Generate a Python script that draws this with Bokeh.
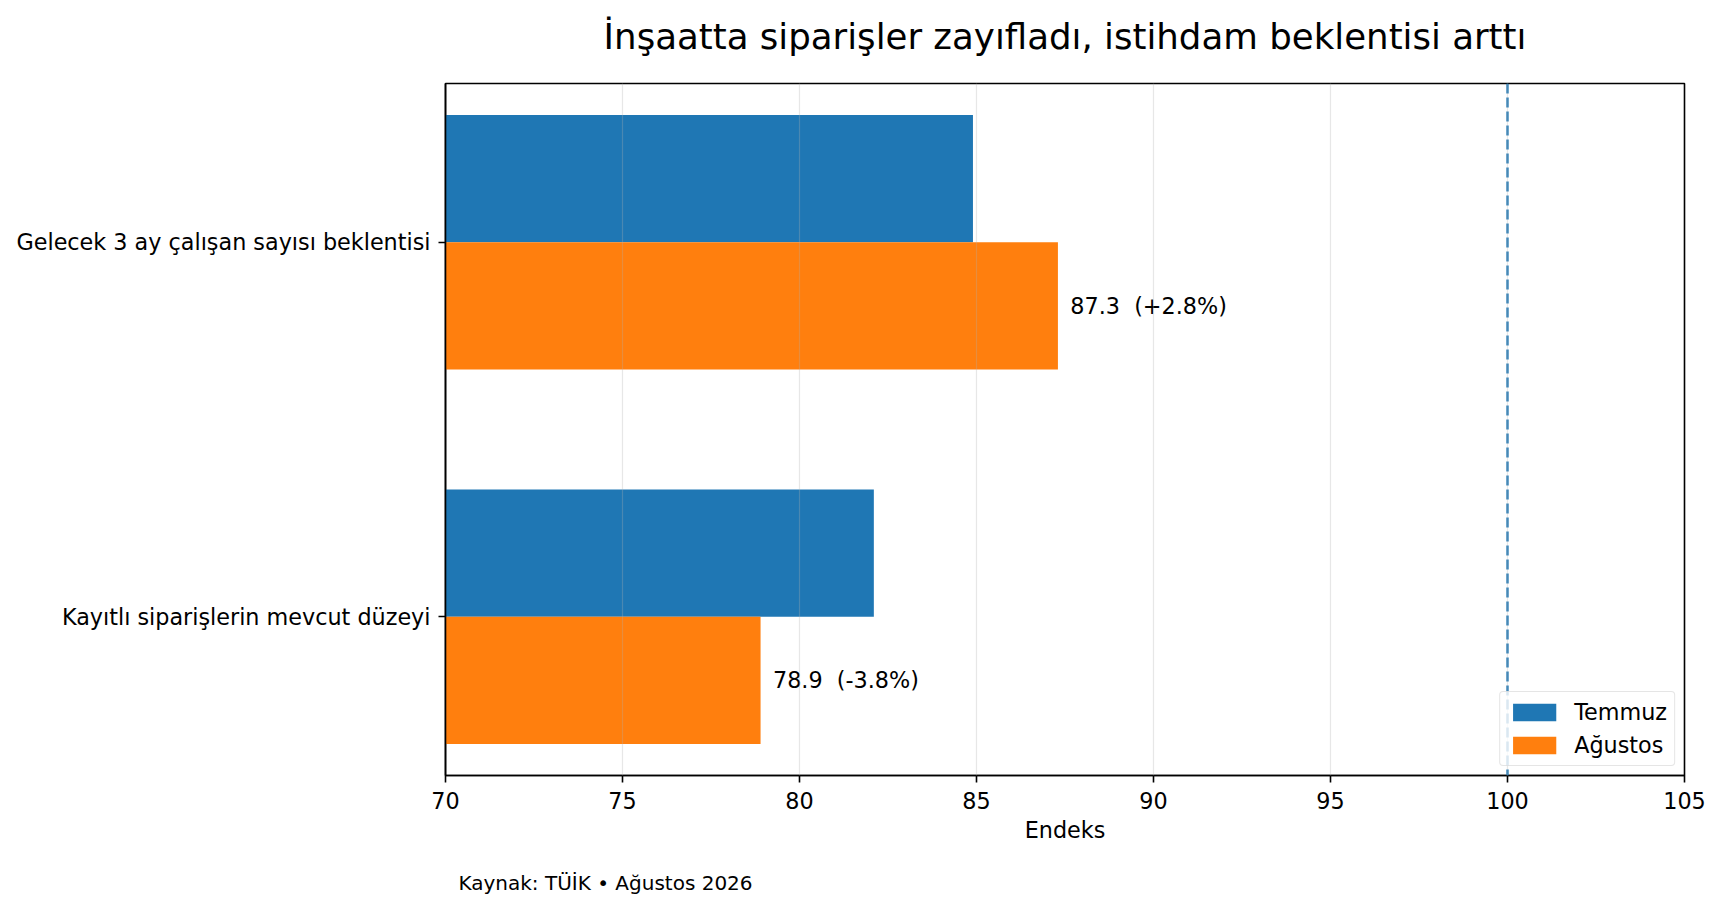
from bokeh.plotting import figure
from bokeh.models import (ColumnDataSource, FactorRange, Range1d, FixedTicker,
                          Span, Legend, LegendItem, Title)
from bokeh.transform import dodge
from bokeh.core.properties import value
from bokeh.embed import file_html
from bokeh.resources import INLINE

# data
categories = ["Kayıtlı siparişlerin mevcut düzeyi",
              "Gelecek 3 ay çalışan sayısı beklentisi"]
temmuz = [82.1, 84.9]
agustos = [78.9, 87.3]
degisim = [-3.8, 2.8]          # % change Temmuz -> Ağustos, as printed
x_ticks = [70, 75, 80, 85, 90, 95, 100, 105]
reference_level = 100

FONT = "DejaVu Sans"
BLUE = "#1f77b4"
ORANGE = "#ff7f0e"

# non-breaking spaces so the double gap survives in svg
labels = [f"{a:.1f}\u00a0\u00a0({d:+.1f}%)" for a, d in zip(agustos, degisim)]
label_x = [a + 0.35 for a in agustos]

source = ColumnDataSource(data=dict(cat=categories, temmuz=temmuz, agustos=agustos,
                                    label=labels, label_x=label_x))

p = figure(width=1706, height=900, output_backend="svg", toolbar_location=None,
           y_range=FactorRange(*categories, range_padding=-0.076),
           x_range=Range1d(70, 105),
           min_border_left=445, min_border_right=22,
           min_border_top=83, min_border_bottom=124)


def spacer(gap):
    # blank title used only to push the next panel outward
    return Title(text="\u00a0", text_font_size="1px", standoff=gap)


# title (a blank spacer sits between it and the frame)
p.add_layout(spacer(7), "above")
p.title.text = "İnşaatta siparişler zayıfladı, istihdam beklentisi arttı"
p.title.align = "center"
p.title.vertical_align = "top"
p.title.text_font = FONT
p.title.text_font_size = "35.6px"
p.title.text_font_style = "normal"
p.title.text_color = "#000000"
p.title.standoff = 30

# bars
bar_h = 0.34
r_t = p.hbar(y=dodge("cat", bar_h / 2, range=p.y_range), left=0, right="temmuz",
             height=bar_h, source=source, fill_color=BLUE, line_color=None)
r_a = p.hbar(y=dodge("cat", -bar_h / 2, range=p.y_range), left=0, right="agustos",
             height=bar_h, source=source, fill_color=ORANGE, line_color=None)

# value labels next to the Ağustos bars
p.text(x="label_x", y=dodge("cat", -bar_h / 2, range=p.y_range), text="label",
       source=source, text_font=value(FONT), text_font_size="22.3px",
       text_baseline="middle", text_align="left", text_color="#000000")

# reference line at 100
p.add_layout(Span(location=reference_level, dimension="height", line_color=BLUE,
                  line_width=2.3, line_dash="10 4"))

# axes
p.xaxis.ticker = FixedTicker(ticks=x_ticks)
p.xaxis.axis_label = "Endeks"
for ax in (p.xaxis, p.yaxis):
    ax.axis_line_color = "black"
    ax.axis_line_width = 1.6
    ax.major_tick_line_color = "black"
    ax.major_tick_line_width = 1.6
    ax.major_tick_out = 7
    ax.major_tick_in = 0
    ax.minor_tick_line_color = None
    ax.major_label_text_font = FONT
    ax.major_label_text_font_size = "22.3px"
    ax.major_label_text_color = "#000000"
    ax.axis_label_text_font = FONT
    ax.axis_label_text_font_size = "22.3px"
    ax.axis_label_text_font_style = "normal"
    ax.axis_label_text_color = "#000000"
p.xaxis.major_label_standoff = 9
p.xaxis.axis_label_standoff = 5
p.yaxis.major_label_standoff = 8

p.outline_line_color = "black"
p.outline_line_width = 1.6
p.ygrid.grid_line_color = None
p.xgrid.grid_line_color = "#b0b0b0"
p.xgrid.grid_line_alpha = 0.3
p.xgrid.grid_line_width = 1.2
p.xgrid.level = "overlay"

# legend
legend = Legend(items=[LegendItem(label="Temmuz", renderers=[r_t]),
                       LegendItem(label="Ağustos", renderers=[r_a])],
                location="bottom_right", margin=9, padding=7, spacing=7,
                glyph_width=54, glyph_height=22, label_standoff=13,
                label_height=26, label_text_font=FONT, label_text_font_size="22.3px",
                label_text_color="#000000", border_line_color="#cccccc",
                border_line_width=1.2, border_radius=4,
                background_fill_alpha=0.8)
p.add_layout(legend)

# source note, pushed down by a spacer below the x axis
p.add_layout(spacer(14), "below")
p.add_layout(Title(text="Kaynak: TÜİK • Ağustos 2026", align="left", offset=13,
                   vertical_align="bottom", text_font=FONT, text_font_size="20px",
                   text_font_style="normal", text_color="#000000", standoff=12),
             "below")

open("out.html", "w").write(file_html(p, INLINE))
